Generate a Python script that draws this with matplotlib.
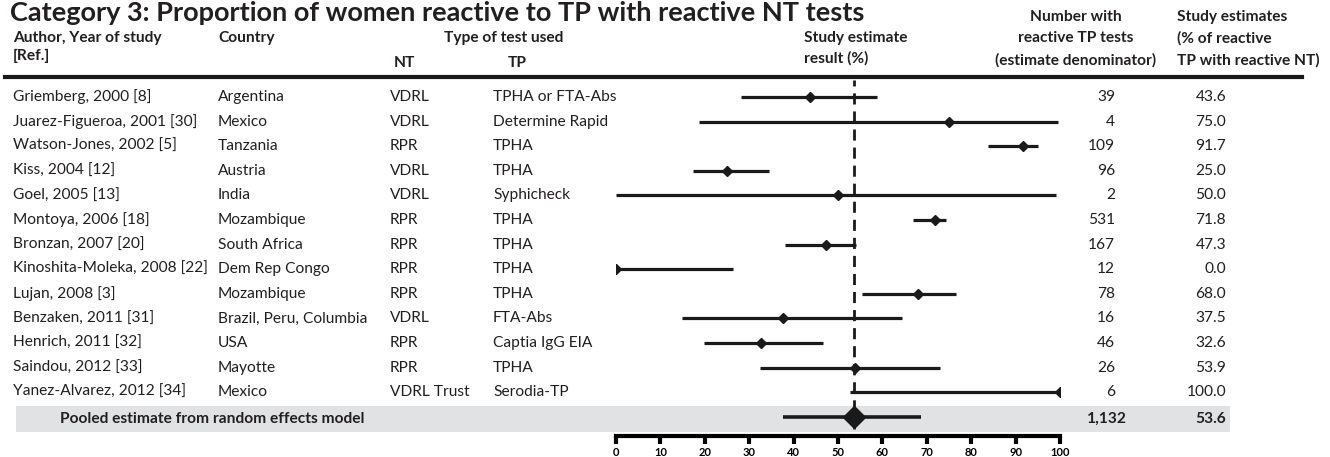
import numpy as np
import matplotlib.pyplot as plt
from matplotlib.transforms import blended_transform_factory
from matplotlib.patches import Rectangle

plt.rcParams['font.family'] = ['Lato', 'DejaVu Sans']

title = "Category 3: Proportion of women reactive to TP with reactive NT tests"

authors = ["Griemberg, 2000 [8]", "Juarez-Figueroa, 2001 [30]", "Watson-Jones, 2002 [5]",
           "Kiss, 2004 [12]", "Goel, 2005 [13]", "Montoya, 2006 [18]", "Bronzan, 2007 [20]",
           "Kinoshita-Moleka, 2008 [22]", "Lujan, 2008 [3]", "Benzaken, 2011 [31]",
           "Henrich, 2011 [32]", "Saindou, 2012 [33]", "Yanez-Alvarez, 2012 [34]"]
countries = ["Argentina", "Mexico", "Tanzania", "Austria", "India", "Mozambique",
             "South Africa", "Dem Rep Congo", "Mozambique", "Brazil, Peru, Columbia",
             "USA", "Mayotte", "Mexico"]
nt_tests = ["VDRL", "VDRL", "RPR", "VDRL", "VDRL", "RPR", "RPR", "RPR", "RPR", "VDRL",
            "RPR", "RPR", "VDRL Trust"]
tp_tests = ["TPHA or FTA-Abs", "Determine Rapid", "TPHA", "TPHA", "Syphicheck", "TPHA",
            "TPHA", "TPHA", "TPHA", "FTA-Abs", "Captia IgG EIA", "TPHA", "Serodia-TP"]
n_tp = ["39", "4", "109", "96", "2", "531", "167", "12", "78", "16", "46", "26", "6"]
estimates = [43.6, 75.0, 91.7, 25.0, 50.0, 71.8, 47.3, 0.0, 68.0, 37.5, 32.6, 53.9, 100.0]
ci_low = [28.2, 18.6, 83.8, 17.3, 0.0, 66.8, 38.1, 0.0, 55.5, 14.8, 19.9, 32.5, 52.6]
ci_high = [58.7, 99.5, 95.0, 34.4, 99.2, 74.3, 54.0, 26.4, 76.6, 64.4, 46.7, 73.0, 100.0]

pooled_label = "Pooled estimate from random effects model"
pooled_n = "1,132"
pooled_est = 53.6
pooled_low = 37.6
pooled_high = 68.7

ticks = [0, 10, 20, 30, 40, 50, 60, 70, 80, 90, 100]

W, H = 1330, 457
fig = plt.figure(figsize=(W / 100, H / 100), dpi=100)

# forest panel: x from 616px to 1060px, rows from y=97px, 24.6px apart
ax = fig.add_axes([616 / W, 21 / H, 444 / W, 356 / H])
n = len(authors)
rows = np.arange(n)
pooled_row = n
ax.set_xlim(0, 100)
ax.set_ylim(13.78, -0.69)
for s in ['top', 'left', 'right']:
    ax.spines[s].set_visible(False)
ax.spines['bottom'].set_linewidth(3)
ax.set_yticks([])
ax.set_xticks(ticks)
ax.tick_params(axis='x', direction='out', length=6, width=3, pad=2, labelsize=8)
for lab in ax.get_xticklabels():
    lab.set_fontweight('bold')

ax.hlines(rows, ci_low, ci_high, color='#1a1a1a', lw=2.3, zorder=3)
ax.plot(estimates, rows, 'D', color='#1a1a1a', ms=5, zorder=4)
ax.hlines(pooled_row, pooled_low, pooled_high, color='#1a1a1a', lw=2.6, zorder=3)
ax.plot([pooled_est], [pooled_row], 'D', color='#1a1a1a', ms=11, zorder=4)
ax.axvline(pooled_est, ymin=0.02, color='#1a1a1a', lw=2, dashes=(4, 2.5), zorder=2)

tr = blended_transform_factory(fig.transFigure, ax.transData)

# grey band for pooled row
band = Rectangle((16 / W, pooled_row - 0.45), (1230 - 16) / W, 1.05, transform=tr,
                 facecolor='#e1e2e4', edgecolor='none', zorder=0, clip_on=False)
ax.add_patch(band)

fs = 11.2
col = '#231f20'
for i in rows:
    ax.text(13 / W, i, authors[i], transform=tr, fontsize=fs, va='center', color=col)
    ax.text(218 / W, i, countries[i], transform=tr, fontsize=fs, va='center', color=col)
    ax.text(390 / W, i, nt_tests[i], transform=tr, fontsize=fs, va='center', color=col)
    ax.text(493 / W, i, tp_tests[i], transform=tr, fontsize=fs, va='center', color=col)
    ax.text(1115 / W, i, n_tp[i], transform=tr, fontsize=fs, va='center', ha='right', color=col)
    ax.text(1226 / W, i, "%.1f" % estimates[i], transform=tr, fontsize=fs, va='center',
            ha='right', color=col)

ax.text(60 / W, pooled_row + 0.1, pooled_label, transform=tr, fontsize=fs, va='center',
        fontweight='bold', color=col)
ax.text(1127 / W, pooled_row + 0.1, pooled_n, transform=tr, fontsize=fs, va='center',
        ha='right', fontweight='bold', color=col)
ax.text(1226 / W, pooled_row + 0.1, "%.1f" % pooled_est, transform=tr, fontsize=fs,
        va='center', ha='right', fontweight='bold', color=col)


def ftext(x, y, s, size=11.2, **kw):
    fig.text(x / W, 1 - y / H, s, fontsize=size, fontweight='bold', va='center',
             color=col, **kw)


ftext(10, 13, title, size=19.5)
ftext(13, 38, "Author, Year of study")
ftext(13, 56, "[Ref.]")
ftext(218, 38, "Country")
ftext(504, 38, "Type of test used", ha='center')
ftext(404, 63, "NT", ha='center')
ftext(517, 63, "TP", ha='center')
ftext(804, 38, "Study estimate")
ftext(804, 58, "result (%)")
ftext(1076, 17, "Number with", ha='center')
ftext(1076, 38, "reactive TP tests", ha='center')
ftext(1076, 60, "(estimate denominator)", ha='center')
ftext(1177, 17, "Study estimates")
ftext(1177, 38, "(% of reactive")
ftext(1177, 60, "TP with reactive NT)")

fig.add_artist(plt.Line2D([5 / W, 1302 / W], [1 - 77 / H, 1 - 77 / H], color='#1a1a1a', lw=3))

fig.savefig('out.png', dpi=100)
